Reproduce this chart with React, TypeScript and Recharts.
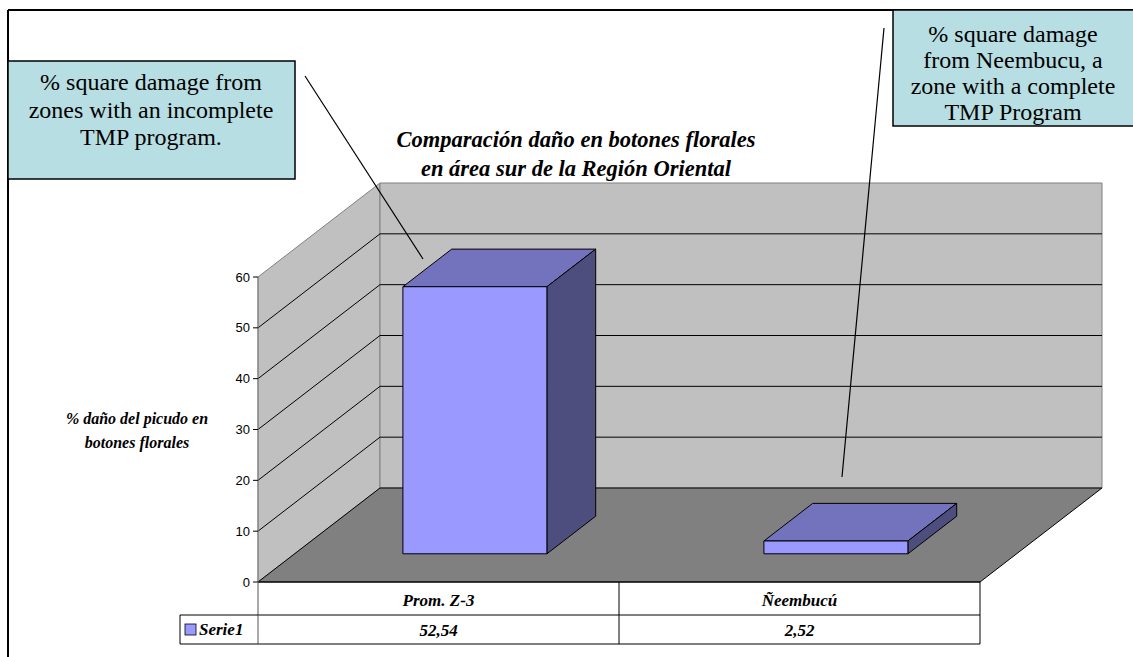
import React from 'react';
import { BarChart, Bar, XAxis, YAxis, ReferenceArea, ReferenceLine } from 'recharts';

const CATEGORIES = ['Prom. Z-3', 'Ñeembucú'];
const VALUES = [52.54, 2.52];
const Y_TICKS = [0, 10, 20, 30, 40, 50, 60];
const GRID_VALUES = [10, 20, 30, 40, 50];
const SERIES_NAME = 'Serie1';
const TITLE_LINES = ['Comparación daño en botones florales', 'en área sur de la Región Oriental'];
const Y_LABEL_LINES = ['% daño del picudo en', 'botones florales'];
const NOTE_LEFT = ['% square damage from', 'zones with an incomplete', 'TMP program.'];
const NOTE_RIGHT = ['% square damage', 'from Neembucu, a', 'zone with a complete', 'TMP Program'];

const data = CATEGORIES.map((name, i) => ({ name, value: VALUES[i] }));

// 3D projection of the depth axis
const DX = 122;
const DY = 94;
const SERIF = '"Liberation Serif", "Times New Roman", serif';
const SANS = '"Liberation Sans", Arial, sans-serif';

const fmt = (v: number) => v.toFixed(2).replace('.', ',');

const Walls = (props: any) => {
  const { x, y, width, height } = props;
  const right = x + width;
  const bottom = y + height;
  return (
    <g>
      <polygon
        points={`${x},${bottom} ${x},${y} ${x + DX},${y - DY} ${x + DX},${bottom - DY}`}
        fill="#C0C0C0"
        stroke="#808080"
      />
      <polygon
        points={`${x + DX},${y - DY} ${right + DX},${y - DY} ${right + DX},${bottom - DY} ${x + DX},${bottom - DY}`}
        fill="#C0C0C0"
        stroke="#808080"
      />
      <polygon
        points={`${x},${bottom} ${right},${bottom} ${right + DX},${bottom - DY} ${x + DX},${bottom - DY}`}
        fill="#808080"
        stroke="#000"
        strokeWidth={1}
      />
    </g>
  );
};

const GridLine3D = (props: any) => {
  const { x1, y1, x2 } = props;
  return (
    <polyline
      points={`${x1},${y1} ${x1 + DX},${y1 - DY} ${x2 + DX},${y1 - DY}`}
      fill="none"
      stroke="#000"
      strokeWidth={1}
    />
  );
};

const Bar3D = (props: any) => {
  const { x, y, width, height } = props;
  const ox = DX * 0.3;
  const oy = DY * 0.3;
  const bx = DX * 0.4;
  const by = DY * 0.4;
  const fx = x + ox;
  const fy = y - oy;
  return (
    <g stroke="#000" strokeWidth={1} strokeLinejoin="round">
      <polygon
        points={`${fx},${fy} ${fx + bx},${fy - by} ${fx + width + bx},${fy - by} ${fx + width},${fy}`}
        fill="#7373BD"
      />
      <polygon
        points={`${fx + width},${fy} ${fx + width + bx},${fy - by} ${fx + width + bx},${fy - by + height} ${fx + width},${fy + height}`}
        fill="#4D4D7E"
      />
      <rect x={fx} y={fy} width={width} height={height} fill="#9999FF" />
    </g>
  );
};

const TableTick = (props: any) => {
  const { x, y, payload, index } = props;
  const half = payload.offset ?? 180;
  const left = x - half;
  const right = x + half;
  const row1 = y + 33;
  const row2 = y + 62;
  const legendW = 78;
  const txt = { fontFamily: SERIF, fontSize: 17, fontWeight: 'bold' as const, fontStyle: 'italic' as const, fill: '#000' };
  return (
    <g>
      <line x1={right} y1={y} x2={right} y2={row2} stroke="#000" />
      <line x1={left} y1={row1} x2={right} y2={row1} stroke="#000" />
      <line x1={left} y1={row2} x2={right} y2={row2} stroke="#000" />
      {index === 0 && (
        <g>
          <line x1={left} y1={y} x2={left} y2={row2} stroke="#555" />
          <line x1={left - legendW} y1={row1} x2={left} y2={row1} stroke="#000" />
          <line x1={left - legendW} y1={row2} x2={left} y2={row2} stroke="#000" />
          <line x1={left - legendW} y1={row1} x2={left - legendW} y2={row2} stroke="#000" />
          <rect x={left - legendW + 5} y={row1 + 9} width={11} height={11} fill="#9999FF" stroke="#000" strokeWidth={0.8} />
          <text x={left - legendW + 19} y={row1 + 20} {...txt}>{SERIES_NAME}</text>
        </g>
      )}
      <text x={x} y={y + 24} textAnchor="middle" {...txt}>{payload.value}</text>
      <text x={x} y={row1 + 21} textAnchor="middle" {...txt}>{fmt(VALUES[index])}</text>
    </g>
  );
};

const Overlay = () => (
  <svg width={1133} height={657} style={{ position: 'absolute', left: 0, top: 0, pointerEvents: 'none' }}>
    <line x1={8} y1={10} x2={1133} y2={10} stroke="#000" strokeWidth={2} />
    <line x1={8} y1={10} x2={8} y2={657} stroke="#000" strokeWidth={2} />
    {TITLE_LINES.map((t, i) => (
      <text key={t} x={576} y={147 + i * 29} textAnchor="middle" fontFamily={SERIF} fontSize={22.5} fontWeight="bold" fontStyle="italic">
        {t}
      </text>
    ))}
    {Y_LABEL_LINES.map((t, i) => (
      <text key={t} x={137} y={424 + i * 24} textAnchor="middle" fontFamily={SERIF} fontSize={16} fontWeight="bold" fontStyle="italic">
        {t}
      </text>
    ))}
    <line x1={305} y1={76} x2={423} y2={259} stroke="#000" strokeWidth={1.2} />
    <line x1={884} y1={28} x2={842} y2={477} stroke="#000" strokeWidth={1.2} />
    <rect x={8} y={61} width={287} height={118} fill="#B7DEE2" stroke="#000" strokeWidth={1.5} />
    {NOTE_LEFT.map((t, i) => (
      <text key={t} x={151} y={90 + i * 27.5} textAnchor="middle" fontFamily={SERIF} fontSize={24}>
        {t}
      </text>
    ))}
    <rect x={893} y={10} width={242} height={116} fill="#B7DEE2" stroke="#000" strokeWidth={1.5} />
    {NOTE_RIGHT.map((t, i) => (
      <text key={t} x={1013} y={42 + i * 26} textAnchor="middle" fontFamily={SERIF} fontSize={24}>
        {t}
      </text>
    ))}
  </svg>
);

export default function App() {
  return (
    <div style={{ position: 'absolute', left: 0, top: 0, width: 1133, height: 657, background: '#fff' }}>
      <BarChart
        width={1133}
        height={657}
        data={data}
        margin={{ top: 277, right: 153, bottom: 0, left: 0 }}
        barCategoryGap="30%"
      >
        <ReferenceArea y1={0} y2={60} shape={Walls} zIndex={-200} ifOverflow="visible" />
        {GRID_VALUES.map((v) => (
          <ReferenceLine key={v} y={v} shape={GridLine3D} zIndex={-150} ifOverflow="visible" />
        ))}
        <XAxis
          dataKey="name"
          height={75}
          interval={0}
          tickSize={0}
          tickMargin={0}
          tickLine={false}
          axisLine={{ stroke: '#000' }}
          tick={TableTick}
        />
        <YAxis
          width={258}
          domain={[0, 60]}
          ticks={Y_TICKS}
          tickSize={5}
          tickMargin={3}
          axisLine={{ stroke: '#808080' }}
          tickLine={{ stroke: '#000' }}
          tick={{ fill: '#000', fontFamily: SANS, fontSize: 13 }}
        />
        <Bar dataKey="value" shape={Bar3D} isAnimationActive={false} />
      </BarChart>
      <Overlay />
    </div>
  );
}
